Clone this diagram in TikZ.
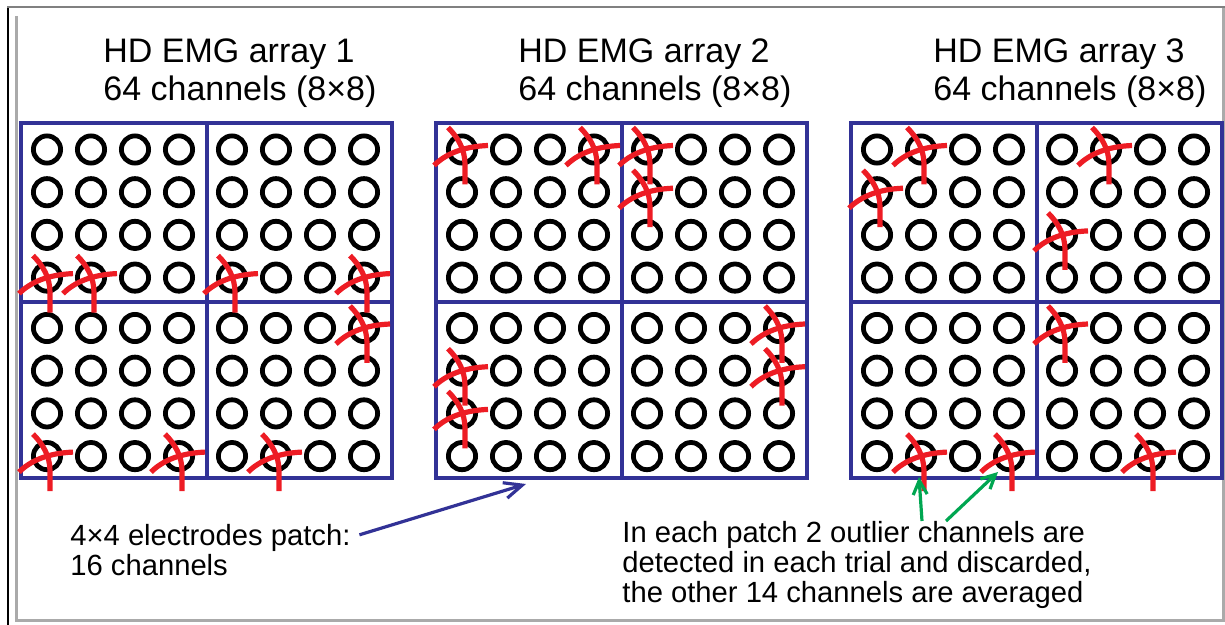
\documentclass[tikz,border=0pt]{standalone}
\usepackage{fontspec}
\setmainfont{Liberation Sans}
\usetikzlibrary{positioning,arrows.meta}
\definecolor{patchblue}{RGB}{50,50,150}
\definecolor{outred}{RGB}{237,28,36}
\definecolor{notegreen}{RGB}{0,166,81}
\definecolor{framegray}{RGB}{170,170,170}
\tikzset{
	electrode/.style={circle, draw, line width=2.4pt, minimum size=13.6pt, inner sep=0pt},
	patchbox/.style={draw=patchblue, line width=2pt},
	outlier/.style={draw=outred, line width=2.6pt},
	title/.style={anchor=base west, inner sep=0pt, font=\fontsize{17}{20}\selectfont},
	note/.style={anchor=base west, inner sep=0pt, font=\fontsize{14.6}{17}\selectfont},
	patcharrow/.style={draw=patchblue, line width=1.6pt, -{Straight Barb[length=9pt,width=8pt]}},
	notearrow/.style={draw=notegreen, line width=1.6pt, -{Straight Barb[length=7pt,width=7pt]}},
}
\begin{document}
\begin{tikzpicture}[x=0.5pt, y=-0.5pt]
	\useasboundingbox (0,0) rectangle (1225,625);
	\draw[black, line width=1pt] (7.5,625) -- (7.5,8);
	\draw[gray, line width=1pt] (7,7.5) -- (1225,7.5);
	\draw[framegray, line width=1.2pt] (16.5,16) -- (16.5,620.5) -- (1225,620.5);
	\draw[framegray, line width=1.2pt] (1223.5,8) -- (1223.5,620.5);

	\foreach \a in {1,2,3} {
		\pgfmathsetmacro\xo{21+415*(\a-1)}
		\draw[patchbox] (\xo,123) rectangle ++(371,355);
		\draw[patchbox] (\xo+185.5,123) -- ++(0,355);
		\draw[patchbox] (\xo,302) -- ++(371,0);
		\foreach \R in {1,...,8} \foreach \C in {1,...,8} {
			\pgfmathsetmacro\ex{\xo+26+44*(\C-1)+9*(\C>4)}
			\pgfmathsetmacro\ey{149.5+42.7*(\R-1)+7.7*(\R>4)}
			\node[electrode] (e\a-\R-\C) at (\ex,\ey) {};
		}
		\node[title] (t\a a) at (\xo+82,63) {HD EMG array \a};
		\node[title] (t\a b) at (\xo+82,101) {64 channels (8×8)};
	}

	\foreach \ch in {e1-4-1,e1-4-2,e1-4-5,e1-4-8,e1-5-8,e1-8-1,e1-8-4,e1-8-6,
		e2-1-1,e2-1-4,e2-1-5,e2-2-5,e2-6-1,e2-7-1,e2-5-8,e2-6-8,
		e3-1-2,e3-2-1,e3-1-6,e3-3-5,e3-5-5,e3-8-2,e3-8-4,e3-8-7} {
		\draw[outlier] ([shift={(-14,-22)}]\ch.center) .. controls +(10,10) and +(0,-15) .. ([shift={(3,15)}]\ch.center) -- ([shift={(3,35)}]\ch.center);
		\draw[outlier] ([shift={(-28,16)}]\ch.center) .. controls +(12,-12) and +(-24,1) .. ([shift={(26,-4)}]\ch.center);
	}

	\node[note] (l1) at (70,545) {4×4 electrodes patch:};
	\node[note] (l2) at (70,575) {16 channels};
	\node[note] (r1) at (622,542) {In each patch 2 outlier channels are};
	\node[note] (r2) at (622,572) {detected in each trial and discarded,};
	\node[note] (r3) at (622,602) {the other 14 channels are averaged};

	\coordinate (ptip) at (526,484);
	\coordinate (g1) at (922,521);
	\coordinate (g2) at (946,521);
	\coordinate (gt1) at (919,477);
	\coordinate (gt2) at (998,472);
	\draw[patcharrow, shorten <=4.5pt] (l1.east) -- (ptip);
	\draw[notearrow] (g1) -- (gt1);
	\draw[notearrow] (g2) -- (gt2);
\end{tikzpicture}
\end{document}
